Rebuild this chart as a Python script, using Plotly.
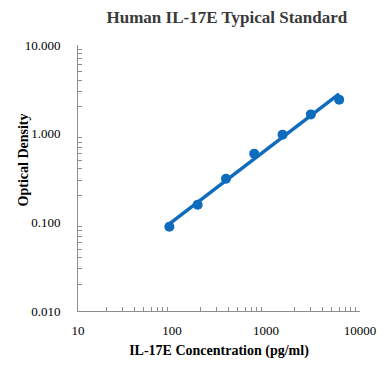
import numpy as np
import plotly.graph_objects as go

concentration = [93.75, 187.5, 375, 750, 1500, 3000, 6000]
optical_density = [0.089, 0.158, 0.310, 0.595, 0.975, 1.650, 2.420]
x_tickvals = [10, 100, 1000, 10000]
x_ticktext = ["10", "100", "1000", "10000"]
y_tickvals = [0.01, 0.1, 1, 10]
y_ticktext = ["0.010", "0.100", "1.000", "10.000"]

blue = "#0F6CBD"
axis_grey = "#8C8C8C"
font_family = "Liberation Serif"

# Power trendline (straight line in log-log space) fitted to the standard points
slope, intercept = np.polyfit(np.log10(concentration), np.log10(optical_density), 1)
xs = np.logspace(np.log10(concentration[0]), np.log10(concentration[-1]), 100)
ys = 10 ** (intercept + slope * np.log10(xs))

x_minor = [m * 10 ** d for d in range(1, 4) for m in range(2, 10)]
y_minor = [m * 10 ** d for d in range(-2, 1) for m in range(2, 10)]

fig = go.Figure()
fig.add_trace(go.Scatter(x=xs, y=ys, mode="lines",
                         line=dict(color=blue, width=3.5), hoverinfo="skip",
                         showlegend=False))
fig.add_trace(go.Scatter(x=concentration, y=optical_density, mode="markers",
                         marker=dict(color=blue, size=10), showlegend=False))

fig.add_annotation(text="<b>Optical Density</b>", textangle=-90,
                   xref="paper", yref="paper", x=-0.195, y=0.566,
                   xanchor="center", yanchor="middle", showarrow=False,
                   font=dict(family=font_family, size=14, color="#000000"))

fig.update_layout(
    width=389, height=387,
    margin=dict(l=78, r=29, t=45, b=76),
    paper_bgcolor="white", plot_bgcolor="white",
    font=dict(family=font_family, size=13, color="#000000"),
    title=dict(text="<b>Human IL-17E Typical Standard</b>",
               x=0.528, xanchor="center", y=0.956, yanchor="middle",
               xref="paper",
               font=dict(family=font_family, size=17, color="#3A3A3A")),
    xaxis=dict(type="log", range=[1, 4],
               tickvals=x_tickvals, ticktext=x_ticktext,
               ticks="", showgrid=False, zeroline=False,
               showline=True, linecolor=axis_grey, linewidth=1,
               ticklabelstandoff=7,
               minor=dict(tickvals=x_minor, ticks="inside", ticklen=4,
                          tickcolor=axis_grey, showgrid=False),
               tickfont=dict(family=font_family, size=13, color="#000000"),
               title=dict(text="<b>IL-17E Concentration (pg/ml)</b>", standoff=8,
                          font=dict(family=font_family, size=14, color="#000000"))),
    yaxis=dict(type="log", range=[-2, 1],
               tickvals=y_tickvals, ticktext=y_ticktext,
               ticks="", showgrid=False, zeroline=False,
               showline=True, linecolor=axis_grey, linewidth=1,
               minor=dict(tickvals=y_minor, ticks="inside", ticklen=4,
                          tickcolor=axis_grey, showgrid=False),
               tickfont=dict(family=font_family, size=13, color="#000000"),
               ticklabelstandoff=14),
)

fig.write_html("out.html", config={"displayModeBar": False},
               post_script="document.body.style.margin='0px';")
